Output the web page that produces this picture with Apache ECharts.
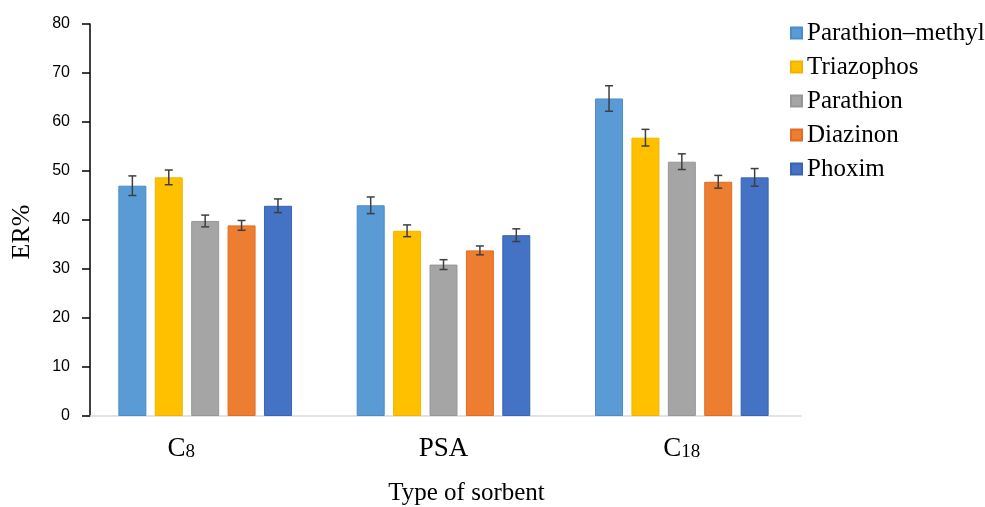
<!DOCTYPE html>
<html>
<head>
<meta charset="utf-8">
<script src="https://cdn.jsdelivr.net/npm/echarts@6/dist/echarts.min.js"></script>
<style>html,body{margin:0;padding:0;background:#fff}#c{width:985px;height:507px}</style>
</head>
<body>
<div id="c"></div>
<script>
const categories = ['C8', 'PSA', 'C18'];
const seriesNames = ['Parathion\u2013methyl', 'Triazophos', 'Parathion', 'Diazinon', 'Phoxim'];
const parathionMethyl = [47.0, 43.0, 64.8];
const triazophos = [48.7, 37.8, 56.8];
const parathion = [39.8, 30.9, 51.9];
const diazinon = [38.9, 33.8, 47.8];
const phoxim = [42.9, 36.9, 48.7];
const errParathionMethyl = [2.0, 1.7, 2.6];
const errTriazophos = [1.5, 1.2, 1.7];
const errParathion = [1.2, 1.0, 1.6];
const errDiazinon = [1.0, 0.9, 1.3];
const errPhoxim = [1.4, 1.3, 1.8];
const yTicks = [0, 10, 20, 30, 40, 50, 60, 70, 80];

const values = [parathionMethyl, triazophos, parathion, diazinon, phoxim];
const errors = [errParathionMethyl, errTriazophos, errParathion, errDiazinon, errPhoxim];
const colors = ['#5B9BD5', '#FFC000', '#A5A5A5', '#ED7D31', '#4472C4'];
const borders = ['#4a8bc9', '#f0b400', '#979797', '#e06d20', '#3a63b0'];

const BAR_W = 28;
const GAP_RATIO = 0.3;

const chart = echarts.init(document.getElementById('c'));

const series = [];
values.forEach((v, k) => {
  series.push({
    name: seriesNames[k],
    type: 'bar',
    data: v,
    barWidth: BAR_W,
    barGap: (GAP_RATIO * 100) + '%',
    itemStyle: { color: colors[k], borderColor: borders[k], borderWidth: 1 },
    z: 2
  });
});
values.forEach((v, k) => {
  series.push({
    type: 'custom',
    name: 'err' + k,
    z: 5,
    silent: true,
    data: v.map((val, i) => [i, val - errors[k][i], val + errors[k][i]]),
    encode: { x: 0, y: [1, 2] },
    renderItem: function (params, api) {
      const cat = api.value(0);
      const lo = api.coord([cat, api.value(1)]);
      const hi = api.coord([cat, api.value(2)]);
      const x = lo[0] + (k - 2) * BAR_W * (1 + GAP_RATIO);
      const hw = 4;
      const st = { stroke: '#3f3f3f', lineWidth: 1.5 };
      return {
        type: 'group',
        children: [
          { type: 'line', shape: { x1: x, y1: lo[1], x2: x, y2: hi[1] }, style: st },
          { type: 'line', shape: { x1: x - hw, y1: lo[1], x2: x + hw, y2: lo[1] }, style: st },
          { type: 'line', shape: { x1: x - hw, y1: hi[1], x2: x + hw, y2: hi[1] }, style: st }
        ]
      };
    }
  });
});

const serif = "'Liberation Serif', 'Times New Roman', serif";

chart.setOption({
  animation: false,
  backgroundColor: '#fff',
  color: colors,
  grid: { left: 86, right: 184, top: 24, bottom: 91, containLabel: false, outerBoundsMode: 'none' },
  legend: {
    data: seriesNames,
    orient: 'vertical',
    left: 785,
    top: 14,
    itemWidth: 11,
    itemHeight: 11,
    itemGap: 6,
    icon: 'rect',
    textStyle: { fontFamily: serif, fontSize: 25, color: '#000', lineHeight: 28 }
  },
  xAxis: {
    type: 'category',
    data: categories,
    axisLine: { lineStyle: { color: '#d9d9d9', width: 1.5 } },
    axisTick: { show: false },
    axisLabel: {
      margin: 16,
      formatter: function (val, idx) {
        const m = val.match(/^([A-Za-z]+)(\d+)$/);
        if (m) {
          return '{c|' + m[1] + '}{' + (idx === 0 ? 's0' : 's') + '|' + m[2] + '}';
        }
        return '{c|' + val + '}';
      },
      rich: {
        c: { fontFamily: serif, fontSize: 27, lineHeight: 30, color: '#000', verticalAlign: 'bottom' },
        s: { fontFamily: serif, fontSize: 19, lineHeight: 19, color: '#000', verticalAlign: 'bottom' },
        s0: { fontFamily: serif, fontSize: 19, lineHeight: 19, color: '#000', verticalAlign: 'bottom', padding: [0, 48, 0, 0] }
      }
    },
    name: 'Type of sorbent',
    nameLocation: 'middle',
    nameGap: 65,
    nameTextStyle: { fontFamily: serif, fontSize: 25, color: '#000', padding: [0, 0, 0, 46] }
  },
  yAxis: {
    type: 'value',
    min: yTicks[0],
    max: yTicks[yTicks.length - 1],
    interval: yTicks[1] - yTicks[0],
    offset: -4,
    splitLine: { show: false },
    axisLine: { show: true, lineStyle: { color: '#000', width: 1.5 } },
    axisTick: { show: true, length: 8, inside: false, lineStyle: { color: '#000', width: 1.5 } },
    axisLabel: { margin: 20, fontFamily: "'Liberation Sans', Arial, sans-serif", fontSize: 16, color: '#000' },
    name: 'ER%',
    nameLocation: 'middle',
    nameRotate: 90,
    nameGap: 55,
    nameTextStyle: { fontFamily: serif, fontSize: 26, color: '#000', padding: [0, 24, 0, 0] }
  },
  series: series
});
</script>
</body>
</html>
